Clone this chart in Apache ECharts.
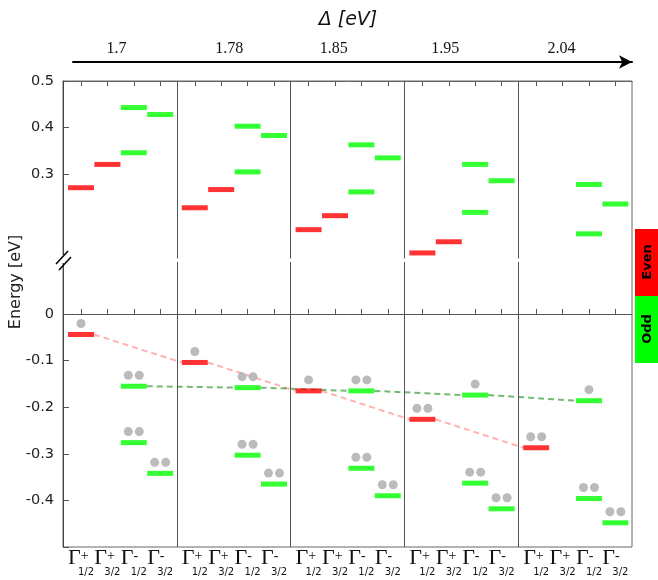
<!DOCTYPE html>
<html><head><meta charset="utf-8">
<script src="https://cdn.jsdelivr.net/npm/echarts@6/dist/echarts.min.js"></script>
<style>html,body{margin:0;padding:0;background:#fff}#c{width:658px;height:580px}</style>
</head><body><div id="c"></div>
<script>
// ---------------- data ----------------
const deltaLabels = ['1.7', '1.78', '1.85', '1.95', '2.04'];
const irrepSup = ['+', '+', '-', '-'];
const irrepSub = ['1/2', '3/2', '1/2', '3/2'];
const irrepParity = ['even', 'even', 'odd', 'odd'];
// [delta index, energy (eV), electrons]
const levelsG12plus = [[0,0.271,0],[0,-0.044,1],[1,0.228,0],[1,-0.104,1],[2,0.181,0],[2,-0.165,1],[3,0.131,0],[3,-0.226,2],[4,-0.287,2]];
const levelsG32plus = [[0,0.321,0],[1,0.267,0],[2,0.211,0],[3,0.155,0]];
const levelsG12minus = [[0,0.443,0],[0,0.346,0],[0,-0.155,2],[0,-0.276,2],
                        [1,0.403,0],[1,0.305,0],[1,-0.158,2],[1,-0.303,2],
                        [2,0.363,0],[2,0.262,0],[2,-0.165,2],[2,-0.331,2],
                        [3,0.321,0],[3,0.218,0],[3,-0.174,1],[3,-0.363,2],
                        [4,0.278,0],[4,0.172,0],[4,-0.186,1],[4,-0.396,2]];
const levelsG32minus = [[0,0.428,0],[0,-0.342,2],[1,0.383,0],[1,-0.365,2],[2,0.335,0],[2,-0.390,2],
                        [3,0.286,0],[3,-0.418,2],[4,0.236,0],[4,-0.448,2]];
const yLabelValues = [0.5, 0.4, 0.3, 0, -0.1, -0.2, -0.3, -0.4];
const legendItems = ['Even', 'Odd'];

// ---------------- layout ----------------
const GROUP_PAD = 0.158, SLOT = 0.232;          // within-group slot placement (group = 1 unit)
const BAR_W = 26, BAR_H = 5;
const RED = '#ff0000', GREEN = '#00ff00';
const allLevels = [levelsG12plus, levelsG32plus, levelsG12minus, levelsG32minus];
const xOf = (g, i) => g + GROUP_PAD + i * SLOT;
const tickPos = [];
for (let g = 0; g < deltaLabels.length; g++) for (let i = 0; i < 4; i++) tickPos.push(xOf(g, i));
const deltaLabelPos = [0.47, 1.46, 2.38, 3.36, 4.38];

const series = [];
const barData = { even: [], odd: [] };
const dots1 = [], dotsL = [];
allLevels.forEach((lv, i) => {
  lv.forEach(([g, e, n]) => {
    const p = [xOf(g, i), e];
    barData[irrepParity[i]].push(p);
    if (n === 1) dots1.push(p);
    if (n === 2) dotsL.push(p);
  });
});
// trend connectors: highest occupied level of an irrep per delta
function trend(i) {
  const pts = [];
  for (let g = 0; g < deltaLabels.length; g++) {
    const occ = allLevels[i].filter(d => d[0] === g && d[2] > 0).map(d => d[1]);
    if (occ.length) pts.push([xOf(g, i), Math.max(...occ)]);
  }
  const segs = [];
  for (let k = 0; k < pts.length - 1; k++) segs.push([pts[k][0], pts[k][1], pts[k+1][0], pts[k+1][1]]);
  return segs;
}
function connector(segs, color) {
  return {
    type: 'custom', z: 1, silent: true, data: segs,
    renderItem: (params, api) => {
      const a = api.coord([api.value(0), api.value(1)]);
      const b = api.coord([api.value(2), api.value(3)]);
      return { type: 'line', shape: { x1: a[0] + BAR_W / 2, y1: a[1], x2: b[0] - BAR_W / 2, y2: b[1] },
               style: { stroke: color, lineWidth: 2, lineDash: [6, 4] } };
    }
  };
}
series.push(connector(trend(0), 'rgba(255,0,0,0.3)'));
series.push(connector(trend(2), 'rgba(0,128,0,0.55)'));
series.push({
  type: 'scatter', z: 3, symbol: 'rect', symbolSize: [BAR_W, BAR_H], data: barData.even,
  itemStyle: { color: RED }, silent: true,
  markLine: { silent: true, symbol: 'none', label: { show: false },
    lineStyle: { color: '#555', width: 1, type: 'solid' },
    data: [1, 2, 3, 4].map(v => ({ xAxis: v })) }
});
series.push({ type: 'scatter', z: 3, symbol: 'rect', symbolSize: [BAR_W, BAR_H], data: barData.odd, itemStyle: { color: GREEN }, silent: true });
const DOT = { type: 'scatter', z: 3, symbol: 'circle', symbolSize: 9, itemStyle: { color: '#aaaaaa' }, silent: true };
series.push(Object.assign({}, DOT, { data: dots1, symbolOffset: [0, -11] }));
series.push(Object.assign({}, DOT, { data: dotsL, symbolOffset: [-5.5, -11] }));
series.push(Object.assign({}, DOT, { data: dotsL, symbolOffset: [5.5, -11] }));

function slotIndex(v) {
  const g = Math.floor(v + 1e-6);
  return Math.round((v - g - GROUP_PAD) / SLOT);
}
const AX = '#555';
const option = {
  animation: false,
  grid: [
    { left: 63, right: 26, top: 81, bottom: 33, show: true, borderColor: '#666', borderWidth: 1 },
    { left: 73, right: 26, top: 61, height: 1 }
  ],
  xAxis: [
    { type: 'value', min: 0, max: 5, position: 'bottom',
      axisLine: { show: true, lineStyle: { color: AX, width: 1 } },
      axisTick: { show: true, inside: true, length: 5, customValues: tickPos, lineStyle: { color: AX } },
      splitLine: { show: false },
      axisLabel: { customValues: tickPos, margin: 2.6, fontSize: 22, lineHeight: 18,
        formatter: v => { const i = slotIndex(v); return '{G|Γ}{sup|' + irrepSup[i] + '}\n{pad| }{sub|' + irrepSub[i] + '}'; },
        rich: {
          G: { fontFamily: 'Liberation Serif', fontSize: 22, color: '#111', align: 'left', lineHeight: 18, verticalAlign: 'middle' },
          sup: { fontFamily: 'Liberation Serif', fontSize: 14, color: '#111', align: 'left', lineHeight: 12, verticalAlign: 'top' },
          pad: { width: 10, align: 'left', fontSize: 10, lineHeight: 10 },
          sub: { fontFamily: 'DejaVu Sans', fontSize: 10, color: '#111', align: 'left', lineHeight: 10 }
        } } },
    { type: 'value', min: 0, max: 5, position: 'top',
      axisLine: { show: true, lineStyle: { color: '#666', width: 1 } },
      axisTick: { show: true, inside: true, length: 5, customValues: tickPos, lineStyle: { color: AX } },
      splitLine: { show: false },
      axisLabel: { customValues: deltaLabelPos, margin: 24, fontFamily: 'Liberation Serif', fontSize: 16, color: '#111',
        formatter: v => deltaLabels[Math.floor(v)] } },
    { gridIndex: 1, type: 'value', min: 0, max: 1, position: 'top',
      axisLine: { show: true, symbol: ['none', 'arrow'], symbolSize: [10, 13], lineStyle: { color: '#000', width: 2 } },
      axisTick: { show: false }, axisLabel: { show: false }, splitLine: { show: false } }
  ],
  yAxis: [
    { type: 'value', min: -0.5, max: 0.5, interval: 0.1,
      axisLine: { show: true, lineStyle: { color: '#444', width: 1 } },
      axisTick: { show: true, inside: true, length: 6, customValues: yLabelValues.concat([-0.5]), lineStyle: { color: AX } },
      splitLine: { show: false },
      axisLabel: { customValues: yLabelValues, margin: 9, fontFamily: 'DejaVu Sans', fontSize: 14.5, color: '#222',
        formatter: v => String(Math.round(v * 10) / 10) } },
    { gridIndex: 1, type: 'value', show: false }
  ],
  series: series,
  graphic: [
    { type: 'text', z: 100, x: 348, y: 20, style: { text: 'Δ [eV]', fontFamily: 'DejaVu Sans', fontStyle: 'italic', fontSize: 19, fill: '#111', align: 'center', verticalAlign: 'middle' } },
    { type: 'text', z: 100, x: 16, y: 282, rotation: Math.PI / 2, style: { text: 'Energy [eV]', fontFamily: 'DejaVu Sans', fontSize: 16, fill: '#222', align: 'center', verticalAlign: 'middle' } },
    // axis break
    { type: 'rect', z: 100, shape: { x: 66, y: 258.5, width: 563, height: 3.5 }, style: { fill: '#fff' } },
    { type: 'rect', z: 100, shape: { x: 58, y: 255, width: 10, height: 8 }, style: { fill: '#fff' } },
    { type: 'line', z: 101, shape: { x1: 56, y1: 264, x2: 68, y2: 251 }, style: { stroke: '#000', lineWidth: 1.5 } },
    { type: 'line', z: 101, shape: { x1: 59, y1: 270, x2: 71, y2: 257 }, style: { stroke: '#000', lineWidth: 1.5 } },
    // parity legend
    { type: 'rect', z: 100, shape: { x: 635, y: 229, width: 30, height: 67 }, style: { fill: RED } },
    { type: 'rect', z: 100, shape: { x: 635, y: 296, width: 30, height: 67 }, style: { fill: GREEN } },
    { type: 'text', z: 101, x: 648, y: 262, rotation: Math.PI / 2, style: { text: legendItems[0], fontFamily: 'DejaVu Sans', fontWeight: 'bold', fontSize: 13, fill: '#000', align: 'center', verticalAlign: 'middle' } },
    { type: 'text', z: 101, x: 648, y: 329, rotation: Math.PI / 2, style: { text: legendItems[1], fontFamily: 'DejaVu Sans', fontWeight: 'bold', fontSize: 13, fill: '#000', align: 'center', verticalAlign: 'middle' } }
  ]
};
const chart = echarts.init(document.getElementById('c'), null, { renderer: 'canvas' });
chart.setOption(option);
</script></body></html>
